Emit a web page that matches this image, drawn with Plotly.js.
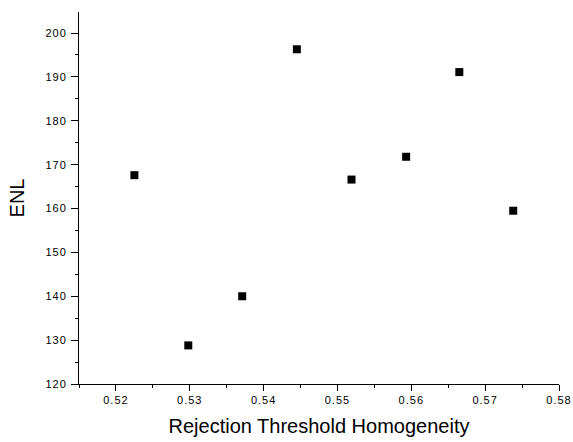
<!DOCTYPE html>
<html>
<head>
<meta charset="utf-8">
<script src="https://cdn.plot.ly/plotly-3.0.1.min.js"></script>
<style>
html,body{margin:0;padding:0;background:#fff;}
#chart{width:573px;height:442px;}
.xtick text, .ytick text{letter-spacing:1px;}
</style>
</head>
<body>
<div id="chart"></div>
<script>
const threshold = [0.5225, 0.5298, 0.5371, 0.5445, 0.5519, 0.5593, 0.5665, 0.5738];
const enl = [167.6, 128.8, 140.0, 196.3, 166.6, 171.8, 191.1, 159.5];
const xTicks = [0.52, 0.53, 0.54, 0.55, 0.56, 0.57, 0.58];
const yTicks = [120, 130, 140, 150, 160, 170, 180, 190, 200];

const trace = {
  x: threshold, y: enl, type: 'scatter', mode: 'markers',
  marker: {symbol: 'square', size: 8, color: '#000', line: {width: 0}},
  showlegend: false
};
const tickFont = {family: 'Liberation Sans, Arial, sans-serif', size: 11, color: '#000'};
const titleFont = {family: 'Liberation Sans, Arial, sans-serif', size: 20, color: '#000'};
const layout = {
  width: 573, height: 442,
  margin: {l: 79, r: 14, t: 12, b: 58},
  paper_bgcolor: '#fff', plot_bgcolor: '#fff',
  xaxis: {
    range: [0.515, 0.58], tickmode: 'array', tickvals: xTicks,
    ticktext: xTicks.map(v => v.toFixed(2)),
    showgrid: false, zeroline: false, showline: true, linecolor: '#000', linewidth: 1,
    ticks: 'outside', ticklen: 6, tickwidth: 1, tickcolor: '#000', tickfont: tickFont,
    minor: {dtick: 0.005, ticks: 'outside', ticklen: 3, tickcolor: '#000', showgrid: false},
    title: {text: 'Rejection Threshold Homogeneity', font: titleFont, standoff: 13}
  },
  yaxis: {
    range: [120, 204.8], tickmode: 'array', tickvals: yTicks,
    showgrid: false, zeroline: false, showline: true, linecolor: '#000', linewidth: 1,
    ticks: 'outside', ticklen: 7, tickwidth: 1, tickcolor: '#000', tickfont: tickFont,
    ticklabelstandoff: 2,
    minor: {dtick: 5, ticks: 'outside', ticklen: 3, tickcolor: '#000', showgrid: false},
    title: {text: 'ENL', font: titleFont, standoff: 15}
  }
};
Plotly.newPlot('chart', [trace], layout, {staticPlot: true, displayModeBar: false});
</script>
</body>
</html>
